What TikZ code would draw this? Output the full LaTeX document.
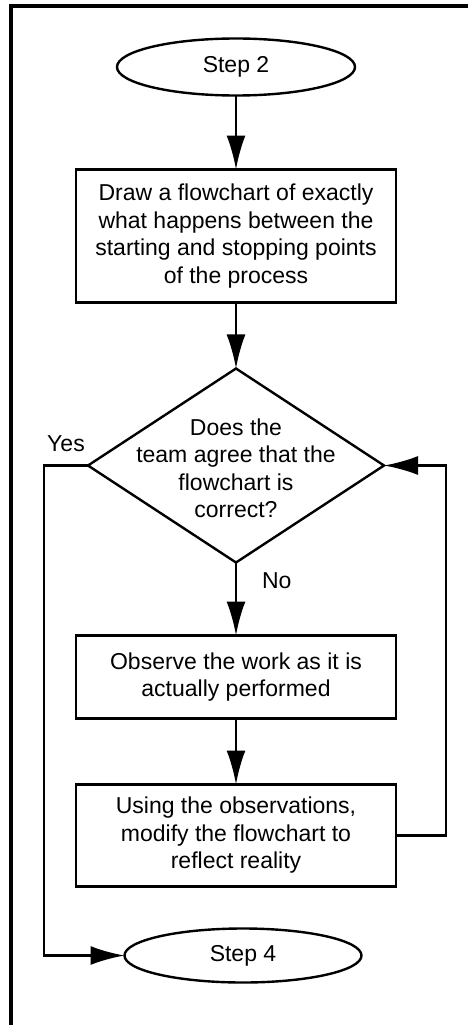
\documentclass[tikz,border=0pt]{standalone}
\usepackage{fontspec}
\setmainfont{Liberation Sans}
\usetikzlibrary{arrows.meta,positioning,shapes.geometric}
\tikzset{
  term_/.style = {shape=ellipse, draw, minimum width=238pt, minimum height=57pt, inner sep=0pt},
  box_/.style  = {shape=rectangle, draw, align=center, minimum width=320pt, inner sep=0pt},
  dec_/.style  = {shape=diamond, draw, minimum width=296pt, minimum height=194pt, inner sep=0pt},
  lbl_/.style  = {inner sep=0pt}
}

\begin{document}
\begin{tikzpicture}
	[
	line width        = 2.4pt,
	every node/.style = {font=\fontsize{23}{27.5}\selectfont, outer sep=0pt},
	arr_/.style       = {draw, -{Latex[length=34pt, width=19pt]}}
	]
	\useasboundingbox (0,0) rectangle (468pt,-1025pt);
	% frame
	\draw [line width=4pt] (11pt,-1025pt) -- (11pt,-6.5pt) -- (468pt,-6.5pt);
	\node [term_] (step2) at (236pt,-67pt) {Step 2};
	\node [box_, minimum height=133pt, below=74pt of step2] (draw)
		{Draw a flowchart of exactly\\what happens between the\\starting and stopping points\\of the process};
	\node [dec_, below=66pt of draw,
		label={[align=center, lbl_, yshift=-3pt]center:{Does the\\team agree that the\\flowchart is\\correct?}}] (agree) {};
	\node [box_, minimum height=83pt, below=73pt of agree] (observe)
		{Observe the work as it is\\actually performed};
	\node [box_, minimum height=102pt, below=66pt of observe] (modify)
		{Using the observations,\\modify the flowchart to\\reflect reality};
	\node [term_, minimum width=237pt, minimum height=54pt, below=42pt of modify, xshift=7pt] (step4) {Step 4};
	% connectors
	\draw [arr_] (step2) -- (draw);
	\draw [arr_] (draw) -- (agree);
	\draw [arr_] (agree) -- node [lbl_, pos=0.25, right=26pt] (no) {No} (observe);
	\draw [arr_] (observe) -- (modify);
	\draw [arr_] (modify.east) -- ++(50pt,0) |- (agree.east);
	\draw [arr_] (agree.west) -- node [lbl_, above=14pt] (yes) {Yes} ++(-44pt,0) |- (step4.west);
\end{tikzpicture}
\end{document}
